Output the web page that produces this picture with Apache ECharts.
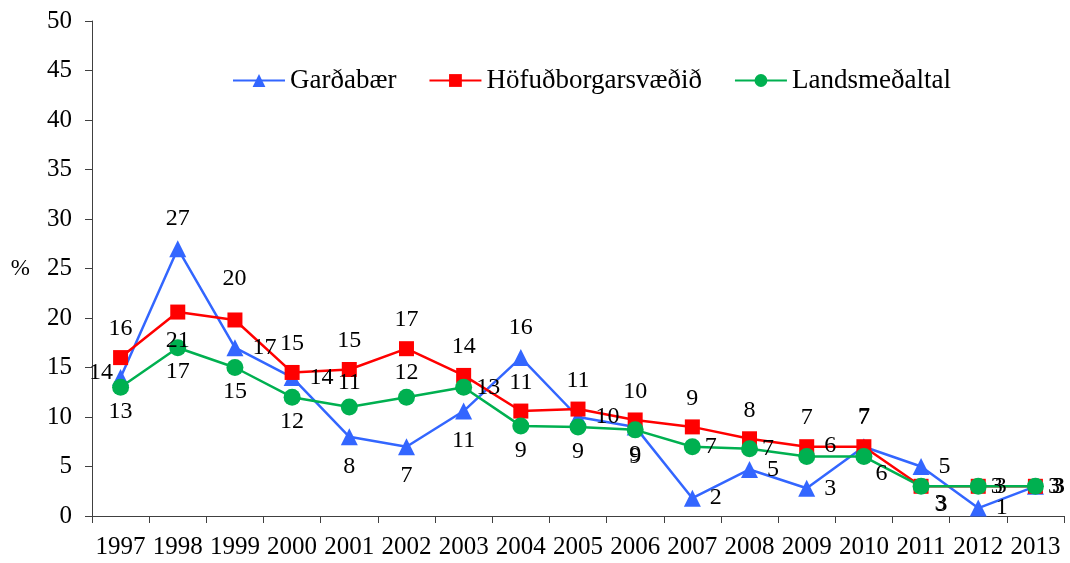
<!DOCTYPE html>
<html>
<head>
<meta charset="utf-8">
<script src="https://cdn.jsdelivr.net/npm/echarts@6/dist/echarts.min.js"></script>
<style>
  html, body { margin: 0; padding: 0; background: #fff; }
  #chart { width: 1070px; height: 563px; }
</style>
</head>
<body>
<div id="chart"></div>
<script>
// years on the x axis
const years = ['1997', '1998', '1999', '2000', '2001', '2002', '2003', '2004', '2005',
  '2006', '2007', '2008', '2009', '2010', '2011', '2012', '2013'];

// values (%)
const gardabaer = [14, 27, 17, 14, 8, 7, 10.6, 16, 10, 9, 1.8, 4.7, 2.8, 7, 5, 0.8, 3];
const hofudborg = [16, 20.6, 19.8, 14.5, 14.8, 16.9, 14.2, 10.6, 10.8, 9.7, 9, 7.8, 7, 7, 3, 3, 3];
const landsmedaltal = [13, 17, 15, 12, 11, 12, 13, 9.1, 9, 8.7, 7, 6.8, 6, 6, 3, 3, 3];

// where each data label sits relative to its point
const blueLabelPos = [[-23, -8], 'top', 'right', 'right', 'bottom', 'bottom', 'bottom', 'top', 'right',
  'bottom', 'right', 'right', 'right', 'top', 'right', 'right', 'right'];
const redLabelPos = ['top', 'bottom', [-5, -46], 'top', 'top', 'top', 'top', 'top', 'top',
  'top', 'top', 'top', 'top', 'top', [22, 14], 'right', 'right'];
const greenLabelPos = ['bottom', 'bottom', 'bottom', 'bottom', 'top', 'top', 'right', 'bottom', 'bottom',
  'bottom', 'right', 'right', [26, -14], [20, 14], [22, 14], 'right', 'right'];

const FONT = 'Liberation Serif, Times New Roman, serif';

function withLabels(values, positions) {
  return values.map((v, i) => ({ value: v, label: { position: positions[i] } }));
}

const labelBase = {
  show: true,
  color: '#000',
  fontFamily: FONT,
  fontSize: 24,
  distance: 9,
  formatter: (p) => Math.round(p.value)
};

const chart = echarts.init(document.getElementById('chart'));

const option = {
  animation: false,
  textStyle: { fontFamily: FONT },
  grid: { left: 92, right: 6, top: 21, bottom: 47 },
  legend: {
    top: 62,
    left: 227,
    itemWidth: 52,
    itemHeight: 16,
    itemGap: 32,
    textStyle: { fontFamily: FONT, fontSize: 27, color: '#000' },
    data: ['Garðabær', 'Höfuðborgarsvæðið', 'Landsmeðaltal']
  },
  xAxis: {
    type: 'category',
    data: years,
    boundaryGap: true,
    axisLine: { lineStyle: { color: '#404040', width: 1 } },
    axisTick: { show: true, length: 7, lineStyle: { color: '#404040' } },
    axisLabel: { interval: 0, color: '#000', fontFamily: FONT, fontSize: 25, margin: 19 }
  },
  yAxis: {
    type: 'value',
    min: 0,
    max: 50,
    interval: 5,
    name: '%',
    nameLocation: 'middle',
    nameRotate: 0,
    nameGap: 62,
    nameTextStyle: { color: '#000', fontFamily: FONT, fontSize: 23 },
    axisLine: { show: true, lineStyle: { color: '#404040', width: 1 } },
    axisTick: { show: true, length: 7, lineStyle: { color: '#404040' } },
    splitLine: { show: false },
    axisLabel: { color: '#000', fontFamily: FONT, fontSize: 25, margin: 20 }
  },
  series: [
    {
      name: 'Garðabær',
      type: 'line',
      data: withLabels(gardabaer, blueLabelPos),
      symbol: 'triangle',
      symbolSize: 17,
      color: '#3366FF',
      lineStyle: { width: 2.5, color: '#3366FF' },
      itemStyle: { color: '#3366FF' },
      label: Object.assign({}, labelBase)
    },
    {
      name: 'Höfuðborgarsvæðið',
      type: 'line',
      data: withLabels(hofudborg, redLabelPos),
      symbol: 'rect',
      symbolSize: 15,
      color: '#FF0000',
      lineStyle: { width: 2.5, color: '#FF0000' },
      itemStyle: { color: '#FF0000' },
      label: Object.assign({}, labelBase)
    },
    {
      name: 'Landsmeðaltal',
      type: 'line',
      data: withLabels(landsmedaltal, greenLabelPos),
      symbol: 'circle',
      symbolSize: 17,
      color: '#00B050',
      lineStyle: { width: 2.5, color: '#00B050' },
      itemStyle: { color: '#00B050' },
      label: Object.assign({}, labelBase, { distance: 4 })
    }
  ]
};

chart.setOption(option);
</script>
</body>
</html>
